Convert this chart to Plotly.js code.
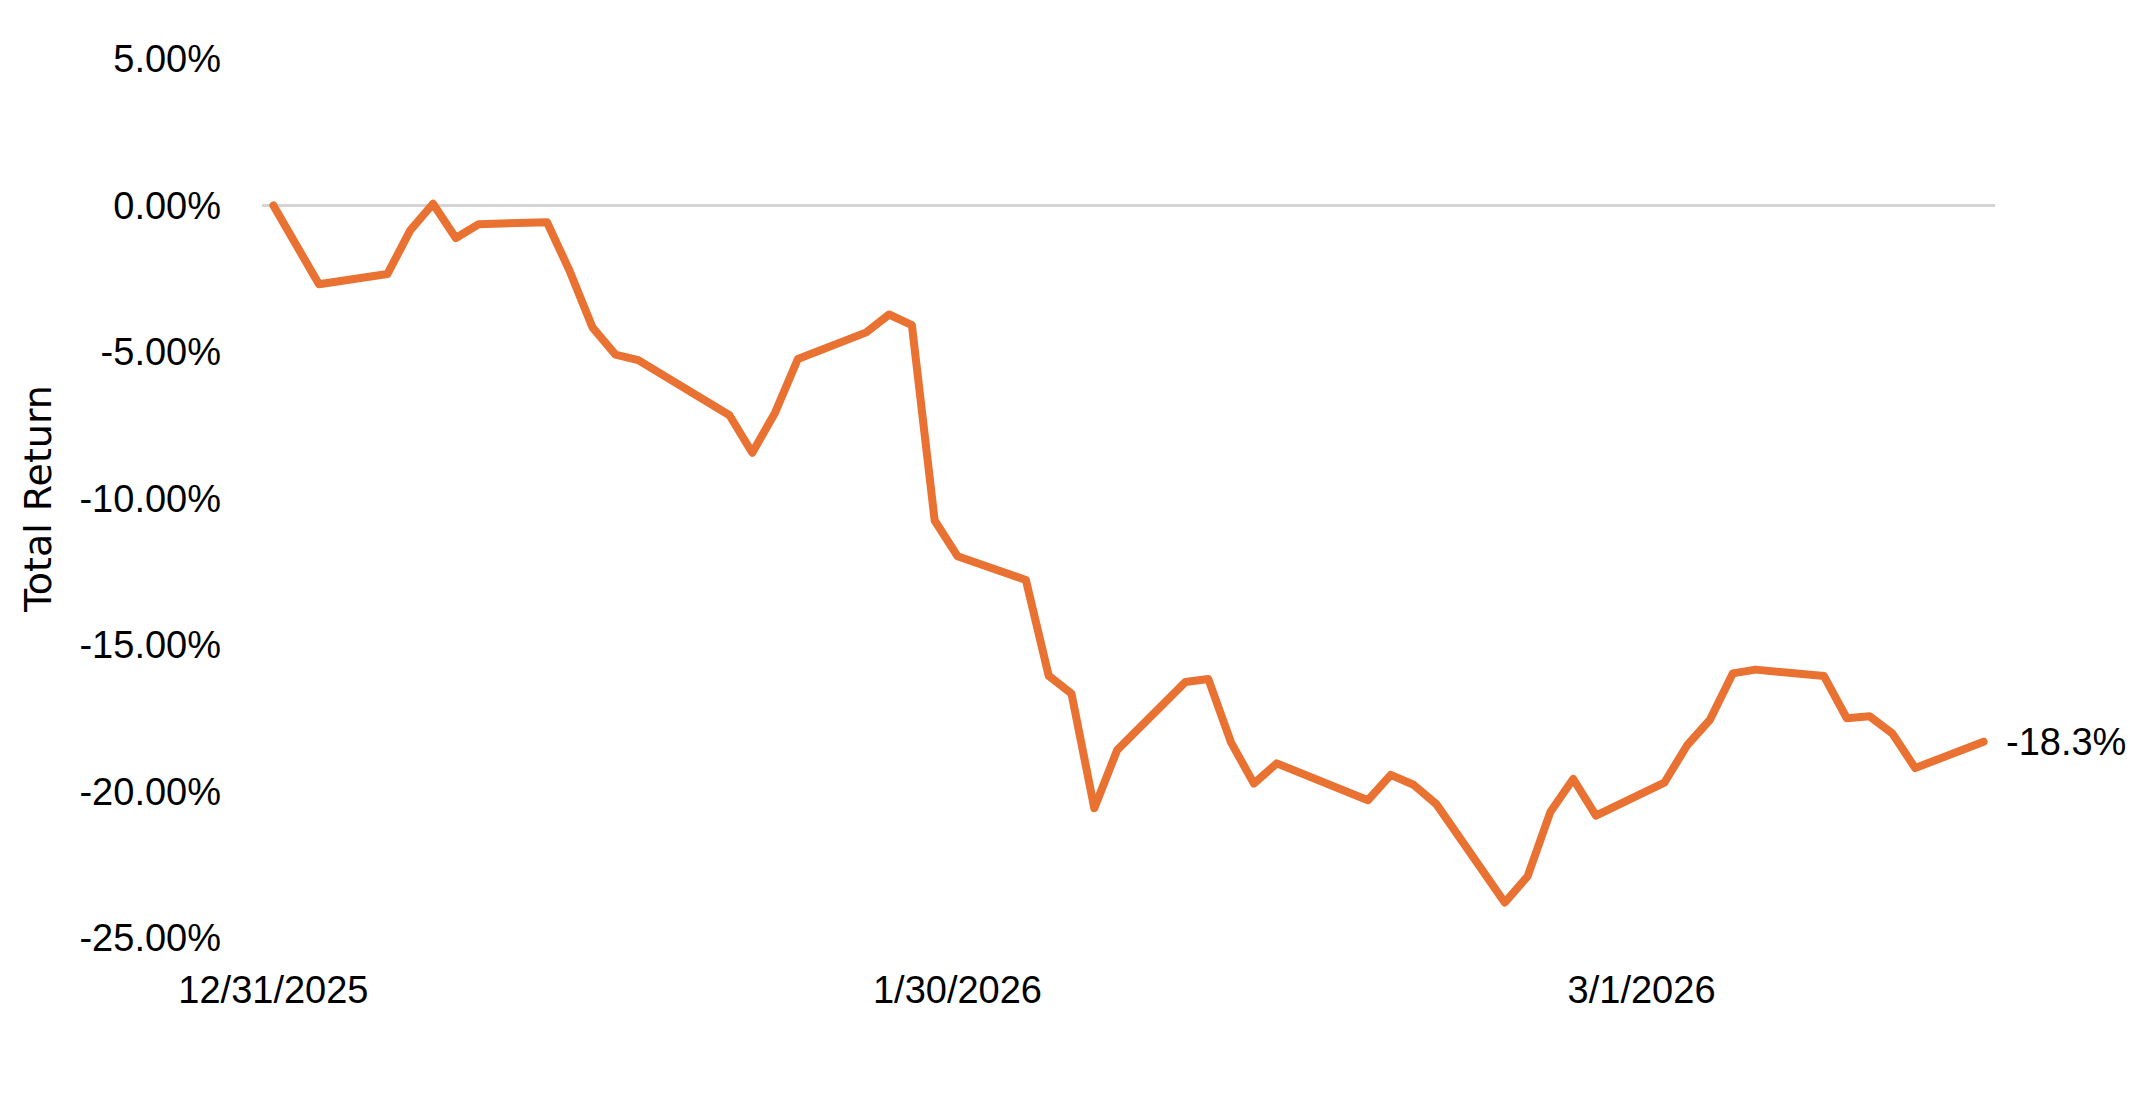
<!DOCTYPE html>
<html>
<head>
<meta charset="utf-8">
<script src="https://cdn.plot.ly/plotly-3.0.1.min.js"></script>
<style>
  html, body { margin: 0; padding: 0; background: #ffffff; }
  #chart { width: 2145px; height: 1095px; }
  #chart .scatterlayer path.js-line { stroke-linejoin: round; stroke-linecap: round; }
</style>
</head>
<body>
<div id="chart"></div>
<script>
// ---- Data ----
const dates = [
  '2025-12-31',
  '2026-01-02', '2026-01-05', '2026-01-06', '2026-01-07', '2026-01-08', '2026-01-09',
  '2026-01-12', '2026-01-13', '2026-01-14', '2026-01-15', '2026-01-16',
  '2026-01-20', '2026-01-21', '2026-01-22', '2026-01-23',
  '2026-01-26', '2026-01-27', '2026-01-28', '2026-01-29', '2026-01-30',
  '2026-02-02', '2026-02-03', '2026-02-04', '2026-02-05', '2026-02-06',
  '2026-02-09', '2026-02-10', '2026-02-11', '2026-02-12', '2026-02-13',
  '2026-02-17', '2026-02-18', '2026-02-19', '2026-02-20',
  '2026-02-23', '2026-02-24', '2026-02-25', '2026-02-26', '2026-02-27',
  '2026-03-02', '2026-03-03', '2026-03-04', '2026-03-05', '2026-03-06',
  '2026-03-09', '2026-03-10', '2026-03-11', '2026-03-12', '2026-03-13',
  '2026-03-16'
];

const totalReturn = [
  0.00,
  -2.69, -2.34, -0.85, 0.06, -1.11, -0.64,
  -0.57, -2.25, -4.17, -5.09, -5.28,
  -7.16, -8.44, -7.07, -5.24,
  -4.33, -3.72, -4.08, -10.75, -11.97,
  -12.78, -16.05, -16.66, -20.57, -18.59,
  -16.26, -16.16, -18.33, -19.73, -19.04,
  -20.30, -19.43, -19.77, -20.43,
  -23.79, -22.90, -20.70, -19.57, -20.82,
  -19.70, -18.42, -17.55, -15.97, -15.84,
  -16.06, -17.50, -17.43, -18.02, -19.20,
  -18.30
];

const xTickVals = ['2025-12-31', '2026-01-30', '2026-03-01'];
const xTickText = ['12/31/2025', '1/30/2026', '3/1/2026'];

const yTickVals = [5, 0, -5, -10, -15, -20, -25];
const yTickText = ['5.00%', '0.00%', '-5.00%', '-10.00%', '-15.00%', '-20.00%', '-25.00%'];

const yAxisTitle = 'Total Return';

// ---- Chart ----
const lineColor = '#E97132';
const tickFont = { family: 'Liberation Sans, Arial, sans-serif', size: 38, color: '#000000' };

const lastIdx = totalReturn.length - 1;
const endLabel = totalReturn[lastIdx].toFixed(1) + '%';

const trace = {
  type: 'scatter',
  mode: 'lines',
  x: dates,
  y: totalReturn,
  line: { color: lineColor, width: 8, shape: 'linear' },
  hoverinfo: 'skip'
};

const layout = {
  width: 2145,
  height: 1095,
  margin: { l: 262, r: 150, t: 59, b: 157, pad: 0 },
  paper_bgcolor: '#ffffff',
  plot_bgcolor: '#ffffff',
  showlegend: false,
  xaxis: {
    type: 'date',
    range: ['2025-12-30 12:00', '2026-03-16 12:00'],
    tickvals: xTickVals,
    ticktext: xTickText,
    tickfont: tickFont,
    showgrid: false,
    zeroline: false,
    showline: false,
    ticks: '',
    ticklabelstandoff: 26,
    automargin: false
  },
  yaxis: {
    range: [-25, 5],
    tickvals: yTickVals,
    ticktext: yTickText,
    tickfont: tickFont,
    showgrid: false,
    zeroline: true,
    zerolinecolor: '#d4d4d4',
    zerolinewidth: 2.5,
    showline: false,
    ticks: '',
    ticklabelstandoff: 40,
    automargin: false,
    title: {
      text: yAxisTitle,
      font: { family: 'DejaVu Sans, sans-serif', size: 38, color: '#000000' },
      standoff: 16
    }
  },
  annotations: [{
    x: dates[lastIdx],
    y: totalReturn[lastIdx],
    xref: 'x',
    yref: 'y',
    text: endLabel,
    showarrow: false,
    xanchor: 'left',
    yanchor: 'middle',
    xshift: 20,
    font: tickFont
  }]
};

Plotly.newPlot('chart', [trace], layout, { staticPlot: true, displayModeBar: false });
</script>
</body>
</html>
